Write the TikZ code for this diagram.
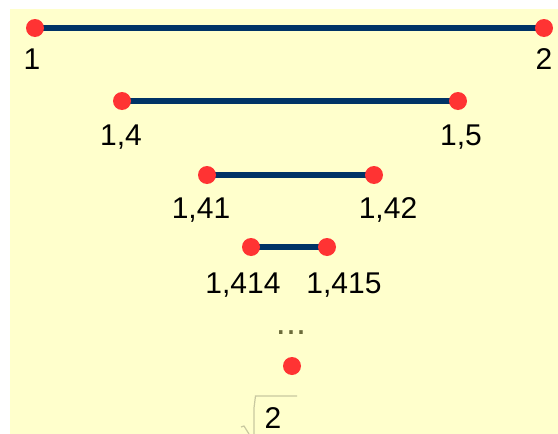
\documentclass[tikz,border=0pt]{standalone}
\usepackage{fontspec}
\setmainfont{Liberation Sans}
\definecolor{bgyellow}{HTML}{FFFFCC}
\definecolor{segblue}{HTML}{003366}
\definecolor{dotred}{HTML}{FF3333}
\definecolor{radgray}{HTML}{C8C8A0}
\definecolor{ellcol}{HTML}{6B6B3A}
\tikzset{
  dotpt/.style={circle,fill=dotred,inner sep=0pt,minimum size=18pt},
  seg/.style={draw=segblue,line width=6pt},
  numlbl/.style={anchor=base,inner sep=0pt,font=\fontsize{30}{30}\selectfont},
}
\begin{document}
\begin{tikzpicture}[x=1pt,y=-1pt]
\useasboundingbox (0,0) rectangle (558,434);
\fill[bgyellow] (10,9) rectangle (558,434);
% row 1
\coordinate (a1) at (35,28);
\coordinate (b1) at (544,28);
\draw[seg] (a1) -- (b1);
\node[dotpt] (pa1) at (a1) {};
\node[dotpt] (pb1) at (b1) {};
\node[numlbl] (la1) at (32,69) {1};
\node[numlbl] (lb1) at (544,69) {2};
% row 2
\coordinate (a2) at (122,101);
\coordinate (b2) at (458,101);
\draw[seg] (a2) -- (b2);
\node[dotpt] (pa2) at (a2) {};
\node[dotpt] (pb2) at (b2) {};
\node[numlbl] (la2) at (121,145) {1,4};
\node[numlbl] (lb2) at (461,145) {1,5};
% row 3
\coordinate (a3) at (207,175);
\coordinate (b3) at (374,175);
\draw[seg] (a3) -- (b3);
\node[dotpt] (pa3) at (a3) {};
\node[dotpt] (pb3) at (b3) {};
\node[numlbl] (la3) at (201,218) {1,41};
\node[numlbl] (lb3) at (388,218) {1,42};
% row 4
\coordinate (a4) at (251,247);
\coordinate (b4) at (327,247);
\draw[seg] (a4) -- (b4);
\node[dotpt] (pa4) at (a4) {};
\node[dotpt] (pb4) at (b4) {};
\node[numlbl] (la4) at (243,293) {1,414};
\node[numlbl] (lb4) at (344,293) {1,415};
% dots and limit
\node[anchor=base,inner sep=0pt,font=\fontsize{36}{36}\selectfont,text=ellcol] (ell) at (291,334.5) {...};
\node[dotpt] (lim) at (292,366) {};
\node[numlbl] (two) at (273,428) {2};
\draw[radgray,line width=1.2pt] (241,427) -- (244,426) -- (249,434) (254,434) -- (254,408) -- (255.5,396) -- (297,396);
\end{tikzpicture}
\end{document}
